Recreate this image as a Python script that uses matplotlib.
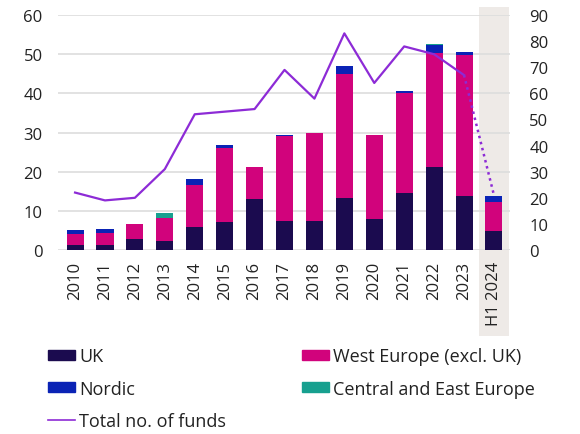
import matplotlib
matplotlib.use("Agg")
import matplotlib.pyplot as plt
from matplotlib.patches import Patch
from matplotlib.lines import Line2D

# =============================================================================
# Data
# =============================================================================

years = ["2010", "2011", "2012", "2013", "2014", "2015", "2016", "2017",
         "2018", "2019", "2020", "2021", "2022", "2023", "H1 2024"]

uk = [1.2, 1.2, 2.8, 2.4, 6.0, 7.1, 13.1, 7.5, 7.5, 13.2, 7.9, 14.6, 21.1, 13.9, 4.9]
west_europe = [3.0, 3.1, 3.9, 5.8, 10.7, 18.9, 8.1, 21.6, 22.4, 31.7, 21.4, 25.5, 29.3, 36.0, 7.3]
nordic = [0.9, 1.1, 0.0, 0.0, 1.4, 0.8, 0.0, 0.3, 0.0, 2.2, 0.1, 0.6, 2.0, 0.6, 1.6]
central_east = [0.0, 0.0, 0.0, 1.2, 0.0, 0.0, 0.0, 0.0, 0.0, 0.0, 0.0, 0.0, 0.2, 0.0, 0.0]

total_funds = [22, 19, 20, 31, 52, 53, 54, 69, 58, 83, 64, 78, 75, 67, 21]

# =============================================================================
# Style
# =============================================================================

plt.rcParams["font.family"] = ["Open Sans", "DejaVu Sans"]

C_UK = "#1b0b4f"
C_WEST = "#d1037c"
C_NORDIC = "#0a23b5"
C_CEE = "#17a08f"
C_LINE = "#8d2bd6"
C_TEXT = "#222222"
C_GRID = "#dddddd"
C_SHADE = "#eeeae7"

FS = 12
FS_LEGEND = 13

# =============================================================================
# Chart
# =============================================================================

fig = plt.figure(figsize=(5.8, 4.35), dpi=100)
ax = fig.add_axes([0.1, 0.423, 0.779, 0.54])

x = list(range(len(years)))
width = 0.57

bottom2 = [a + b for a, b in zip(uk, west_europe)]
bottom3 = [a + b for a, b in zip(bottom2, nordic)]

ax.bar(x, uk, width, color=C_UK, zorder=2)
ax.bar(x, west_europe, width, bottom=uk, color=C_WEST, zorder=2)
ax.bar(x, nordic, width, bottom=bottom2, color=C_NORDIC, zorder=2)
ax.bar(x, central_east, width, bottom=bottom3, color=C_CEE, zorder=2)

# shaded half-year column
ax.axvspan(len(years) - 1.5, len(years) - 0.5, ymin=-0.366, ymax=1.034,
           color=C_SHADE, clip_on=False, zorder=0, lw=0)

ax.set_xlim(-0.57, len(years) - 0.47)
ax.set_ylim(0, 60)
ax.set_yticks(range(0, 61, 10))
ax.set_xticks(x)
ax.set_xticklabels(years, rotation=90)
ax.grid(axis="y", color=C_GRID, linewidth=1.2)
ax.set_axisbelow(True)

for s in ax.spines.values():
    s.set_visible(False)

ax.tick_params(axis="y", length=0, pad=11, labelsize=FS, labelcolor=C_TEXT)
ax.tick_params(axis="x", length=0, pad=8, labelsize=FS, labelcolor=C_TEXT)
ax.patch.set_alpha(0)

ax2 = ax.twinx()
ax2.set_ylim(0, 90)
ax2.set_yticks(range(0, 91, 10))
for s in ax2.spines.values():
    s.set_visible(False)
ax2.tick_params(axis="y", length=0, pad=14, labelsize=FS, labelcolor=C_TEXT)

ax2.plot(x[:-1], total_funds[:-1], color=C_LINE, linewidth=1.6, zorder=3)
ax2.plot(x[-2:], total_funds[-2:], color=C_LINE, linewidth=1.8,
         linestyle=(0, (1, 1.5)), zorder=3)

handles = [
    Patch(color=C_UK, label="UK"),
    Patch(color=C_NORDIC, label="Nordic"),
    Line2D([0], [0], color=C_LINE, linewidth=1.2, label="Total no. of funds"),
    Patch(color=C_WEST, label="West Europe (excl. UK)"),
    Patch(color=C_CEE, label="Central and East Europe"),
]

fig.legend(handles=handles, loc="upper left", bbox_to_anchor=(0.083, 0.199),
           ncol=2, frameon=False, fontsize=FS_LEGEND, handlelength=1.5,
           handleheight=0.45, handletextpad=0.22, labelspacing=0.78,
           columnspacing=4.2, borderaxespad=0, borderpad=0,
           labelcolor=C_TEXT)

plt.savefig("out.png", dpi=100)
plt.close()
